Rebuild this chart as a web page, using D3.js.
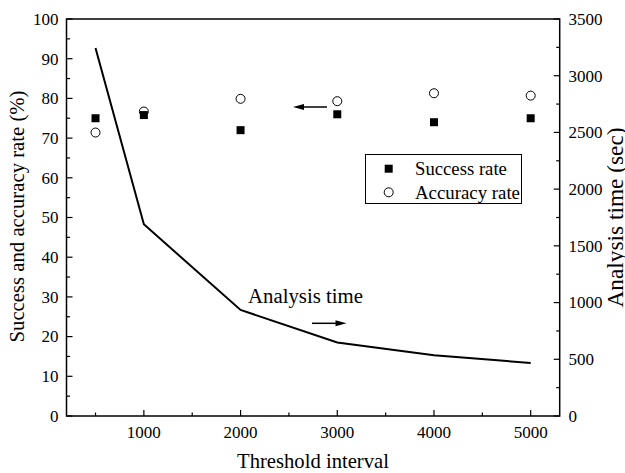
<!DOCTYPE html>
<html>
<head>
<meta charset="utf-8">
<script src="https://cdn.jsdelivr.net/npm/d3@7"></script>
<style>
  html, body { margin: 0; padding: 0; background: #fff; }
  svg text { font-family: "Liberation Serif", "Times New Roman", serif; fill: #000; }
</style>
</head>
<body>
<svg id="chart" width="625" height="473"></svg>
<script>
// Threshold interval values on the x axis
const thresholds = [500, 1000, 2000, 3000, 4000, 5000];
// Success rate (%) – filled squares, left axis
const successRate = [75.0, 75.8, 72.0, 76.0, 74.0, 75.0];
// Accuracy rate (%) – open circles, left axis
const accuracyRate = [71.4, 76.7, 79.9, 79.3, 81.3, 80.7];
// Analysis time (sec) – solid line, right axis
const analysisTime = [3245, 1690, 935, 648, 535, 468];

const xTicks = [1000, 2000, 3000, 4000, 5000];
const xMinor = [500, 1500, 2500, 3500, 4500];
const leftTicks = [0, 10, 20, 30, 40, 50, 60, 70, 80, 90, 100];
const rightTicks = [0, 500, 1000, 1500, 2000, 2500, 3000, 3500];

const svg = d3.select("#chart");
const L = 66.5, R = 559.7, T = 19, B = 416;

const x = d3.scaleLinear().domain([200, 5300]).range([L, R]);
const yL = d3.scaleLinear().domain([0, 100]).range([B, T]);
const yR = d3.scaleLinear().domain([0, 3500]).range([B, T]);

const fs = 17;

// Frame
svg.append("rect")
  .attr("x", L).attr("y", T).attr("width", R - L).attr("height", B - T)
  .attr("fill", "none").attr("stroke", "#000").attr("stroke-width", 1.5);

// Bottom axis: inward ticks
const bx = svg.append("g");
xTicks.forEach(v => {
  bx.append("line").attr("x1", x(v)).attr("x2", x(v)).attr("y1", B).attr("y2", B - 6)
    .attr("stroke", "#000").attr("stroke-width", 1.2);
  bx.append("text").attr("x", x(v)).attr("y", 437.5).attr("text-anchor", "middle")
    .attr("font-size", fs).text(v);
});
xMinor.forEach(v => {
  bx.append("line").attr("x1", x(v)).attr("x2", x(v)).attr("y1", B).attr("y2", B - 3.5)
    .attr("stroke", "#000").attr("stroke-width", 1.2);
});

// Left axis
const ly = svg.append("g");
leftTicks.forEach(v => {
  ly.append("line").attr("x1", L).attr("x2", L + 6).attr("y1", yL(v)).attr("y2", yL(v))
    .attr("stroke", "#000").attr("stroke-width", 1.2);
  ly.append("text").attr("x", 58.5).attr("y", yL(v) + 5.8).attr("text-anchor", "end")
    .attr("font-size", fs).text(v);
});
d3.range(5, 100, 10).forEach(v => {
  ly.append("line").attr("x1", L).attr("x2", L + 3.5).attr("y1", yL(v)).attr("y2", yL(v))
    .attr("stroke", "#000").attr("stroke-width", 1.2);
});

// Right axis
const ry = svg.append("g");
rightTicks.forEach(v => {
  ry.append("line").attr("x1", R).attr("x2", R - 6).attr("y1", yR(v)).attr("y2", yR(v))
    .attr("stroke", "#000").attr("stroke-width", 1.2);
  ry.append("text").attr("x", 568.5).attr("y", yR(v) + 5.8).attr("text-anchor", "start")
    .attr("font-size", fs).text(v);
});
d3.range(250, 3500, 500).forEach(v => {
  ry.append("line").attr("x1", R).attr("x2", R - 3.5).attr("y1", yR(v)).attr("y2", yR(v))
    .attr("stroke", "#000").attr("stroke-width", 1.2);
});

// Scale a text's font size so it spans the given width
function fit(sel, width) {
  const base = +sel.attr("font-size");
  const len = sel.node().getComputedTextLength();
  if (len > 0) sel.attr("font-size", (base * width / len).toFixed(2));
  return sel;
}

// Axis titles
fit(svg.append("text").attr("x", 313).attr("y", 468).attr("text-anchor", "middle")
  .attr("font-size", 20).text("Threshold interval"), 152);
fit(svg.append("text").attr("transform", "translate(24,216.5) rotate(-90)").attr("text-anchor", "middle")
  .attr("font-size", 20).text("Success and accuracy rate (%)"), 252);
fit(svg.append("text").attr("transform", "translate(622.5,217.5) rotate(-90)").attr("text-anchor", "middle")
  .attr("font-size", 20).text("Analysis time (sec)"), 180);

// Analysis time line
const line = d3.line().x((d, i) => x(thresholds[i])).y(d => yR(d));
svg.append("path").datum(analysisTime).attr("d", line)
  .attr("fill", "none").attr("stroke", "#000").attr("stroke-width", 2);

// Accuracy rate circles
svg.selectAll("circle.acc").data(accuracyRate).enter().append("circle")
  .attr("class", "acc")
  .attr("cx", (d, i) => x(thresholds[i])).attr("cy", d => yL(d)).attr("r", 4.5)
  .attr("fill", "#fff").attr("stroke", "#000").attr("stroke-width", 1);

// Success rate squares
const sq = 8;
svg.selectAll("rect.suc").data(successRate).enter().append("rect")
  .attr("class", "suc")
  .attr("x", (d, i) => x(thresholds[i]) - sq / 2).attr("y", d => yL(d) - sq / 2)
  .attr("width", sq).attr("height", sq).attr("fill", "#000");

// Legend
const lg = svg.append("g");
lg.append("rect").attr("x", 365.5).attr("y", 154.5).attr("width", 156).attr("height", 49)
  .attr("fill", "#fff").attr("stroke", "#000").attr("stroke-width", 1);
lg.append("rect").attr("x", 388.7 - sq / 2).attr("y", 168.7 - sq / 2).attr("width", sq).attr("height", sq)
  .attr("fill", "#000");
lg.append("circle").attr("cx", 388.7).attr("cy", 192.3).attr("r", 4.5)
  .attr("fill", "#fff").attr("stroke", "#000").attr("stroke-width", 1);
fit(lg.append("text").attr("x", 415).attr("y", 175).attr("font-size", 18).text("Success rate"), 92);
fit(lg.append("text").attr("x", 415).attr("y", 198.5).attr("font-size", 18).text("Accuracy rate"), 105);

// Arrow annotations
function arrow(x1, x2, y) {
  const dir = Math.sign(x2 - x1);
  svg.append("line").attr("x1", x1).attr("x2", x2 - dir * 8).attr("y1", y).attr("y2", y)
    .attr("stroke", "#000").attr("stroke-width", 1.5);
  svg.append("path")
    .attr("d", `M${x2},${y} L${x2 - dir * 11},${y - 3} L${x2 - dir * 11},${y + 3} Z`)
    .attr("fill", "#000");
}
arrow(327, 293, 107);
arrow(312, 346.5, 323.3);

fit(svg.append("text").attr("x", 248).attr("y", 303).attr("font-size", 20).text("Analysis time"), 115);
</script>
</body>
</html>
